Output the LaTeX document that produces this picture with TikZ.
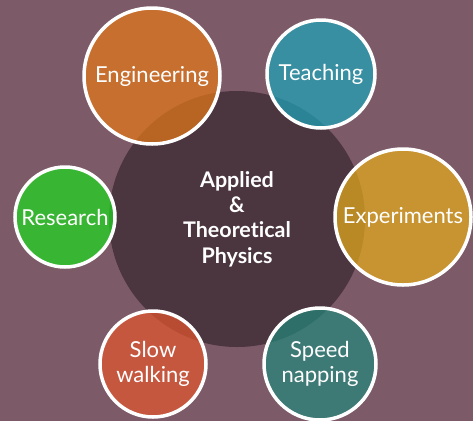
\documentclass[tikz,border=0pt]{standalone}
\usepackage{fontspec}
\setmainfont{Lato}[Ligatures={CommonOff}]
\definecolor{bgc}{RGB}{125,90,104}
\definecolor{hub}{RGB}{75,53,63}
\definecolor{cEng}{RGB}{231,121,23}
\definecolor{cTea}{RGB}{29,166,187}
\definecolor{cExp}{RGB}{232,174,27}
\definecolor{cRes}{RGB}{29,220,30}
\definecolor{cSlo}{RGB}{229,87,47}
\definecolor{cSpe}{RGB}{35,137,124}
\begin{document}
\begin{tikzpicture}[x=1pt,y=-1pt,
  sat/.style={circle,draw=white,line width=3.5pt,fill opacity=0.7,text opacity=1,
    text=white,inner sep=0pt,align=center,font=\fontsize{22}{25}\selectfont},
  hubstyle/.style={circle,fill=hub,inner sep=0pt,text=white,align=center,
    font=\bfseries\fontsize{21.5}{25.3}\selectfont}]
\fill[bgc] (0,0) rectangle (473,421);
\useasboundingbox (0,0) rectangle (473,421);
\node[hubstyle,minimum size=256pt] (hubn) at (237,219) {Applied\\\&\\Theoretical\\Physics};
\node[sat,fill=cEng,minimum size=136pt] (eng) at (152,76) {Engineering};
\node[sat,fill=cTea,minimum size=108pt] (tea) at (321,74) {Teaching};
\node[sat,fill=cExp,minimum size=136pt] (exp) at (403,217) {Experiments};
\node[sat,fill=cRes,minimum size=100pt] (res) at (65,217) {Research};
\node[sat,fill=cSlo,minimum size=106pt] (slo) at (153,364) {Slow\\walking};
\node[sat,fill=cSpe,minimum size=112pt] (spe) at (320,364) {Speed\\napping};
\end{tikzpicture}
\end{document}
